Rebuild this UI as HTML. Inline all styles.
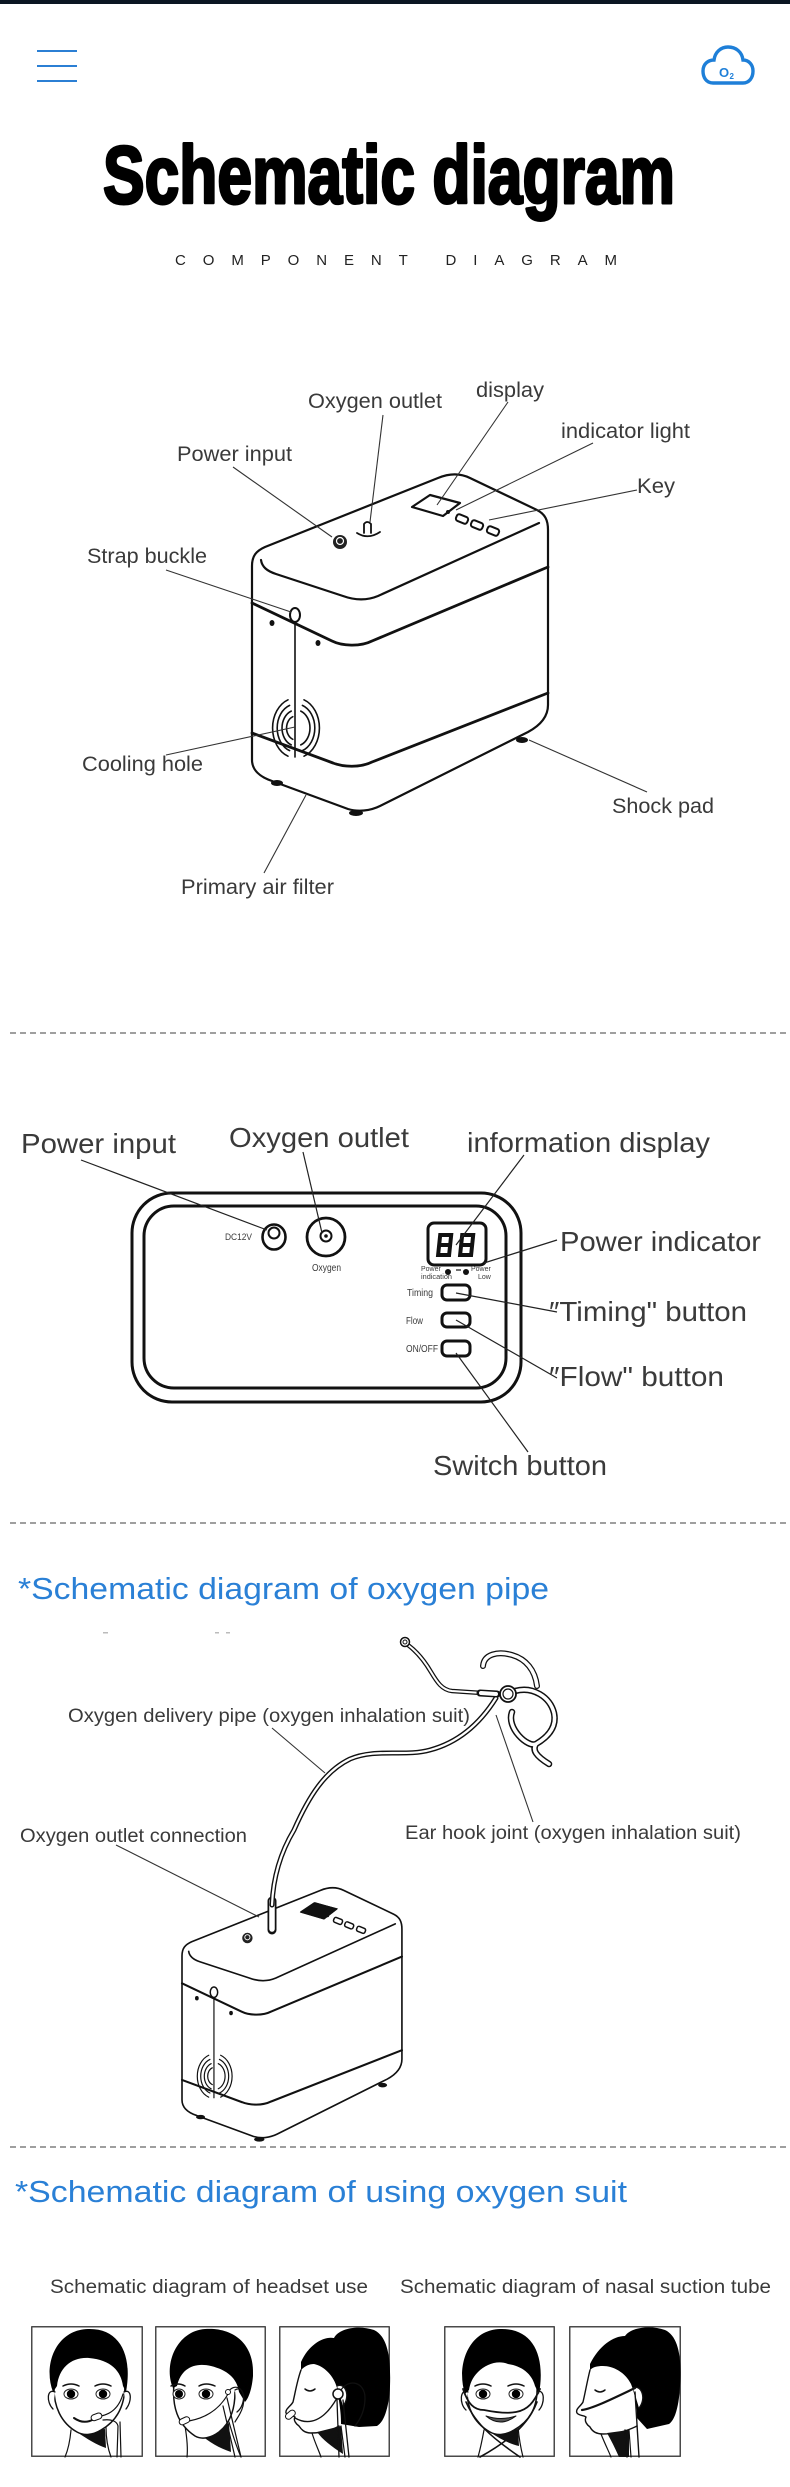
<!DOCTYPE html>
<html><head><meta charset="utf-8">
<style>
html,body{margin:0;padding:0;background:#fff;}
svg{display:block;}
.t{font-family:"Liberation Sans",Arial,sans-serif;fill:#3a3a3a;}
.b{font-family:"Liberation Sans",Arial,sans-serif;fill:#2a80d6;}
</style></head><body>
<svg width="790" height="2487" viewBox="0 0 790 2487" xmlns="http://www.w3.org/2000/svg">
<rect width="790" height="2487" fill="#fff"/>
<rect width="790" height="4" fill="#0b1622"/>

<!-- header -->
<g stroke="#2b7fd4" stroke-width="2">
<line x1="37" y1="51" x2="77" y2="51"/><line x1="37" y1="66" x2="77" y2="66"/><line x1="37" y1="81" x2="77" y2="81"/>
</g>
<path d="M713,83 C706,83 703,77 703,71 C703,64 708,60 714,60 C715,52 721,47 728,47 C736,47 742,52 743,60 C749,60 753,65 753,71 C753,78 749,83 743,83 Z" fill="none" stroke="#1e7fd8" stroke-width="3.4"/>
<text x="719" y="77" font-family="Liberation Sans,sans-serif" font-weight="bold" font-size="13" fill="#1e7fd8">O</text>
<text x="729.5" y="79" font-family="Liberation Sans,sans-serif" font-weight="bold" font-size="8" fill="#1e7fd8">2</text>

<text x="103" y="203" font-family="Liberation Sans,Arial,sans-serif" font-weight="bold" font-size="82" textLength="572" lengthAdjust="spacingAndGlyphs" fill="#000" stroke="#000" stroke-width="3" stroke-linejoin="round">Schematic diagram</text>
<text x="175" y="265" font-family="Liberation Sans,Arial,sans-serif" font-size="15" fill="#222" textLength="442" lengthAdjust="spacing">COMPONENT DIAGRAM</text>

<!-- ===== Device 1 ===== -->
<g id="dev" fill="none" stroke="#111" stroke-width="2.2" stroke-linecap="round" stroke-linejoin="round">
<path d="M252,566 C252,556 256,551 265,547 L438,478 C450,473 460,473 470,478 L537,510 C545,514 548,520 548,530 L548,705 C548,716 541,725 528,732 L380,806 C370,811 358,812 348,809 L272,781 C260,777 252,770 252,760 Z" fill="#fff"/>
<path d="M261,560 C262,567 267,571 276,574 L343,596 C354,600 366,601 378,596 L539,523"/>
<path d="M252,603 L332,641 C342,646 360,647 372,641 L548,567" stroke-width="2.8"/>
<path d="M252,733 L333,763 C343,767 360,768 372,762 L548,693" stroke-width="2.8"/>
<path d="M295,623 L295,757" stroke-width="1.6"/>
<ellipse cx="295" cy="615" rx="5" ry="7" fill="#fff" stroke-width="2"/>
<ellipse cx="272" cy="623" rx="2.5" ry="3" fill="#111" stroke="none"/>
<ellipse cx="318" cy="643" rx="2.5" ry="3" fill="#111" stroke="none"/>
<ellipse cx="277" cy="783" rx="6" ry="3" fill="#111" stroke="none"/>
<ellipse cx="356" cy="813" rx="7" ry="3" fill="#111" stroke="none"/>
<ellipse cx="522" cy="740" rx="6" ry="3" fill="#111" stroke="none"/>
<g stroke-width="1.6">
<path d="M288,699.8 A23.4,30 0 0 0 288,756.2"/>
<path d="M289.6,705.4 A18.7,24 0 0 0 289.6,750.6"/>
<path d="M291.2,711.1 A14,18 0 0 0 291.2,744.9"/>
<path d="M292.8,716.7 A9.4,12 0 0 0 292.8,739.3"/>
<path d="M304,699.8 A23.4,30 0 0 1 304,756.2"/>
<path d="M302.4,705.4 A18.7,24 0 0 1 302.4,750.6"/>
<path d="M300.8,711.1 A14,18 0 0 1 300.8,744.9"/>
</g>
<circle cx="340" cy="542" r="7" fill="#222" stroke="none"/>
<circle cx="340" cy="541" r="3.5" stroke="#fff" stroke-width="1.2"/>
<path d="M412,507 L430,495 L460,503 L443,516 Z" fill="#fff"/>
<circle cx="448" cy="512" r="2" fill="#111" stroke="none"/>
<rect x="-6" y="-3.5" width="12" height="7" rx="2.5" transform="translate(462,519) rotate(22)" stroke-width="2"/>
<rect x="-6" y="-3.5" width="12" height="7" rx="2.5" transform="translate(477,525) rotate(22)" stroke-width="2"/>
<rect x="-6" y="-3.5" width="12" height="7" rx="2.5" transform="translate(493,531) rotate(22)" stroke-width="2"/>
</g>
<g fill="none" stroke="#111" stroke-width="1.8" stroke-linecap="round">
<path d="M364,533 L364,524 Q367,520 371,524 L371,533"/>
<path d="M357,533 Q368,540 380,532"/>
</g>

<!-- section 1 leaders -->
<g stroke="#333" stroke-width="1.1">
<line x1="233" y1="467" x2="332" y2="537"/>
<line x1="383" y1="415" x2="370" y2="522"/>
<line x1="508" y1="402" x2="437" y2="505"/>
<line x1="593" y1="443" x2="456" y2="510"/>
<line x1="637" y1="490" x2="489" y2="520"/>
<line x1="166" y1="570" x2="291" y2="612"/>
<line x1="166" y1="755" x2="295" y2="727"/>
<line x1="647" y1="792" x2="529" y2="740"/>
<line x1="264" y1="873" x2="306" y2="795"/>
</g>
<g class="t" font-size="21">
<text x="308" y="408" textLength="134" lengthAdjust="spacingAndGlyphs">Oxygen outlet</text>
<text x="476" y="397" textLength="68" lengthAdjust="spacingAndGlyphs">display</text>
<text x="561" y="438" textLength="129" lengthAdjust="spacingAndGlyphs">indicator light</text>
<text x="177" y="461" textLength="115" lengthAdjust="spacingAndGlyphs">Power input</text>
<text x="637" y="493" textLength="38" lengthAdjust="spacingAndGlyphs">Key</text>
<text x="87" y="563" textLength="120" lengthAdjust="spacingAndGlyphs">Strap buckle</text>
<text x="82" y="771" textLength="121" lengthAdjust="spacingAndGlyphs">Cooling hole</text>
<text x="612" y="813" textLength="102" lengthAdjust="spacingAndGlyphs">Shock pad</text>
<text x="181" y="894" textLength="153" lengthAdjust="spacingAndGlyphs">Primary air filter</text>
</g>

<g stroke="#666" stroke-width="1.2" stroke-dasharray="6,4">
<line x1="10" y1="1033" x2="790" y2="1033"/>
<line x1="10" y1="1523" x2="790" y2="1523"/>
<line x1="10" y1="2147" x2="790" y2="2147"/>
</g>

<!-- ===== Panel ===== -->
<g fill="none" stroke="#111" stroke-width="3">
<rect x="132" y="1193" width="389" height="209" rx="40"/>
<rect x="144" y="1206" width="362" height="182" rx="30"/>
<ellipse cx="274" cy="1237" rx="11.5" ry="12.5" stroke-width="2.6"/>
<circle cx="274" cy="1233" r="5.5" stroke-width="2"/>
<circle cx="326" cy="1237" r="19" stroke-width="2.8"/>
<circle cx="326" cy="1236" r="5.5" stroke-width="2"/>
<circle cx="326" cy="1236" r="1.8" fill="#111" stroke="none"/>
<rect x="428" y="1223" width="58" height="42" rx="6"/>
<path d="M440,1235 h11 v20 h-11 z M440,1245 h11" stroke-width="4" transform="skewX(-6) translate(130,0)"/>
<path d="M462,1235 h11 v20 h-11 z M462,1245 h11" stroke-width="4" transform="skewX(-6) translate(130,0)"/>
<rect x="442" y="1285" width="28" height="15" rx="5"/>
<rect x="442" y="1313" width="28" height="14" rx="5"/>
<rect x="442" y="1341" width="28" height="15" rx="5"/>
</g>
<circle cx="448" cy="1272" r="3" fill="#111"/>
<circle cx="466" cy="1272" r="3" fill="#111"/>
<line x1="456" y1="1270" x2="461" y2="1270" stroke="#111" stroke-width="1.2"/>
<g class="t" fill="#444">
<text x="225" y="1240" font-size="9" textLength="27" lengthAdjust="spacingAndGlyphs">DC12V</text>
<text x="312" y="1271" font-size="10" textLength="29" lengthAdjust="spacingAndGlyphs">Oxygen</text>
<text x="421" y="1271" font-size="7">Power</text>
<text x="421" y="1279" font-size="7" textLength="31" lengthAdjust="spacingAndGlyphs">indication</text>
<text x="471" y="1271" font-size="7">Power</text>
<text x="478" y="1279" font-size="7">Low</text>
<text x="407" y="1296" font-size="10" textLength="26" lengthAdjust="spacingAndGlyphs">Timing</text>
<text x="406" y="1324" font-size="10" textLength="17" lengthAdjust="spacingAndGlyphs">Flow</text>
<text x="406" y="1352" font-size="10" textLength="32" lengthAdjust="spacingAndGlyphs">ON/OFF</text>
</g>
<g stroke="#222" stroke-width="1.2">
<line x1="81" y1="1160" x2="267" y2="1230"/>
<line x1="303" y1="1152" x2="322" y2="1233"/>
<line x1="524" y1="1155" x2="456" y2="1245"/>
<line x1="557" y1="1240" x2="484" y2="1263"/>
<line x1="557" y1="1312" x2="456" y2="1293"/>
<line x1="557" y1="1378" x2="456" y2="1320"/>
<line x1="528" y1="1452" x2="456" y2="1353"/>
</g>
<g class="t" font-size="28">
<text x="21" y="1153" textLength="155" lengthAdjust="spacingAndGlyphs">Power input</text>
<text x="229" y="1147" textLength="180" lengthAdjust="spacingAndGlyphs">Oxygen outlet</text>
<text x="467" y="1152" textLength="243" lengthAdjust="spacingAndGlyphs">information display</text>
<text x="560" y="1251" textLength="201" lengthAdjust="spacingAndGlyphs">Power indicator</text>
<text x="549" y="1321" textLength="198" lengthAdjust="spacingAndGlyphs">″Timing" button</text>
<text x="549" y="1386" textLength="175" lengthAdjust="spacingAndGlyphs">″Flow" button</text>
<text x="433" y="1475" textLength="174" lengthAdjust="spacingAndGlyphs">Switch button</text>
</g>

<!-- ===== Section 3 ===== -->
<text class="b" x="18" y="1599" font-size="31" textLength="531" lengthAdjust="spacingAndGlyphs">*Schematic diagram of oxygen pipe</text>
<g fill="#bbb"><rect x="103" y="1632" width="5" height="1.5"/><rect x="215" y="1632" width="4" height="1.5"/><rect x="226" y="1632" width="4" height="1.5"/></g>

<use href="#dev" transform="translate(182 1886) scale(0.743) translate(-252 -472)"/>
<path d="M301.5,1912 L315,1903 L336.5,1909 L324,1918.7 Z" fill="#111" stroke="#111" stroke-width="1.5"/>

<g fill="none" stroke-linecap="round" stroke-linejoin="round">
<path d="M272,1901 L272,1930" stroke="#111" stroke-width="9"/>
<path d="M272,1901 L272,1929" stroke="#fff" stroke-width="5.5"/>
<path id="tube" d="M272,1905 C273,1880 279,1855 294,1830 C309,1796 325,1771 350,1759 C376,1748 405,1757 430,1750 C460,1742 481,1722 496,1698" stroke="#111" stroke-width="5"/>
<path d="M272,1905 C273,1880 279,1855 294,1830 C309,1796 325,1771 350,1759 C376,1748 405,1757 430,1750 C460,1742 481,1722 496,1698" stroke="#fff" stroke-width="2.2"/>
<path d="M482,1693 L452,1691 C442,1690 437,1682 431,1672 C424,1660 416,1651 408,1645" stroke="#111" stroke-width="4.5"/>
<path d="M482,1693 L452,1691 C442,1690 437,1682 431,1672 C424,1660 416,1651 408,1645" stroke="#fff" stroke-width="2"/>
<path d="M480,1693 L497,1694" stroke="#111" stroke-width="7"/>
<path d="M481,1693 L496,1694" stroke="#fff" stroke-width="4"/>
<path d="M483,1666 C484,1654 498,1651 512,1655 C526,1659 535,1670 537,1686" stroke="#111" stroke-width="6"/>
<path d="M483,1666 C484,1654 498,1651 512,1655 C526,1659 535,1670 537,1686" stroke="#fff" stroke-width="3.5"/>
<path d="M515,1691 C533,1686 550,1697 554,1713 C557,1727 548,1737 536,1744 C528,1748 506,1728 512,1712 M536,1744 C532,1750 536,1756 549,1764" stroke="#111" stroke-width="6.5"/>
<path d="M515,1691 C533,1686 550,1697 554,1713 C557,1727 548,1737 536,1744 C528,1748 506,1728 512,1712 M536,1744 C532,1750 536,1756 549,1764" stroke="#fff" stroke-width="3.5"/>
</g>
<circle cx="405" cy="1642" r="4.5" fill="#fff" stroke="#111" stroke-width="1.5"/>
<circle cx="405" cy="1642" r="2" fill="none" stroke="#111" stroke-width="1"/>
<circle cx="508" cy="1694" r="8" fill="#fff" stroke="#111" stroke-width="1.8"/>
<circle cx="508" cy="1694" r="5" fill="none" stroke="#111" stroke-width="1.2"/>

<g stroke="#333" stroke-width="1.1">
<line x1="272" y1="1728" x2="325" y2="1773"/>
<line x1="533" y1="1822" x2="496" y2="1715"/>
<line x1="116" y1="1845" x2="259" y2="1917"/>
</g>
<g class="t" font-size="19">
<text x="68" y="1722" textLength="402" lengthAdjust="spacingAndGlyphs">Oxygen delivery pipe (oxygen inhalation suit)</text>
<text x="20" y="1842" textLength="227" lengthAdjust="spacingAndGlyphs">Oxygen outlet connection</text>
<text x="405" y="1839" textLength="336" lengthAdjust="spacingAndGlyphs">Ear hook joint (oxygen inhalation suit)</text>
</g>

<!-- ===== Section 4 ===== -->
<text class="b" x="15" y="2202" font-size="31" textLength="612" lengthAdjust="spacingAndGlyphs">*Schematic diagram of using oxygen suit</text>
<g class="t" font-size="19" fill="#444">
<text x="50" y="2293" textLength="318" lengthAdjust="spacingAndGlyphs">Schematic diagram of headset use</text>
<text x="400" y="2293" textLength="371" lengthAdjust="spacingAndGlyphs">Schematic diagram of nasal suction tube</text>
</g>

<!-- face 1 -->
<g transform="translate(31,2326)" stroke-linecap="round" stroke-linejoin="round">
<rect x="0.75" y="0.75" width="110.5" height="129.5" fill="#fff" stroke="#4a4a4a" stroke-width="1.5"/>
<path d="M40,104 C39,115 37,124 34,131 M75,101 C75,112 77,123 80,131" stroke="#111" stroke-width="1.2" fill="none"/>
<path d="M46,106 L74,103 L75,122 C66,119 56,113 46,106 Z" fill="#111"/>
<path d="M23,58 C22,80 30,97 46,106 C53,110 62,109 70,104 C86,95 94,80 94,58" fill="#fff" stroke="#111" stroke-width="1.5"/>
<path d="M24,66 C16,62 15,76 22,83" fill="#fff" stroke="#111" stroke-width="1.3"/>
<path d="M93,66 C101,62 101,76 95,83" fill="#fff" stroke="#111" stroke-width="1.3"/>
<path d="M22,66 C12,40 24,4 57,3 C88,2 102,28 95,66 L92,60 C90,45 80,34 58,32 C40,31 28,42 26,60 Z" fill="#000"/>
<path d="M32,60 Q40,56 48,60 M64,60 Q72,56 80,60" stroke="#111" stroke-width="1.5" fill="none"/>
<ellipse cx="40" cy="68" rx="7" ry="5" fill="#fff" stroke="#222" stroke-width="1"/>
<circle cx="40" cy="68" r="4.2" fill="#000"/>
<ellipse cx="72" cy="68" rx="7" ry="5" fill="#fff" stroke="#222" stroke-width="1"/>
<circle cx="72" cy="68" r="4.2" fill="#000"/>
<path d="M43,92 Q53,99 63,93" stroke="#111" stroke-width="2" fill="none"/>
<path d="M70,90 C80,88 88,82 92,68 M72,94 C80,93 86,95 87,100 L86,131 M89,96 L90,131" stroke="#111" stroke-width="1.2" fill="none"/>
<rect x="60" y="88" width="11" height="6" rx="3" fill="#fff" stroke="#111" transform="rotate(-20 65 91)"/>
</g>

<!-- face 2 -->
<g transform="translate(155,2326)" stroke-linecap="round" stroke-linejoin="round">
<rect x="0.75" y="0.75" width="109.5" height="129.5" fill="#fff" stroke="#4a4a4a" stroke-width="1.5"/>
<path d="M30,100 C32,112 33,122 32,131 M74,96 C78,110 82,122 86,131" stroke="#111" stroke-width="1.2" fill="none"/>
<path d="M46,109 L74,97 L76,126 C64,122 54,116 46,109 Z" fill="#111"/>
<path d="M19,58 C17,80 22,98 40,110 C47,114 56,112 64,106 C74,98 80,86 80,66" fill="#fff" stroke="#111" stroke-width="1.5"/>
<path d="M80,64 C90,58 92,78 82,86" fill="#fff" stroke="#111" stroke-width="1.3"/>
<path d="M18,62 C8,38 22,5 50,3 C75,1 100,15 98,50 C97,62 94,72 90,76 L84,66 C82,52 72,44 56,40 C40,36 26,42 22,60 Z" fill="#000"/>
<path d="M16,60 Q23,56 30,60 M44,60 Q51,56 60,60" stroke="#111" stroke-width="1.5" fill="none"/>
<ellipse cx="24" cy="68" rx="6" ry="5" fill="#fff" stroke="#222" stroke-width="1"/>
<circle cx="24" cy="68" r="4" fill="#000"/>
<ellipse cx="51" cy="68" rx="7" ry="5" fill="#fff" stroke="#222" stroke-width="1"/>
<circle cx="51" cy="68" r="4.2" fill="#000"/>
<path d="M34,95 C50,92 64,84 73,68 M73,66 C80,56 92,62 88,80 C86,88 82,92 80,96 M72,72 L86,131 M68,80 L80,131" stroke="#111" stroke-width="1.2" fill="none"/>
<circle cx="73" cy="66" r="2.5" fill="#fff" stroke="#111"/>
<rect x="24" y="92" width="11" height="6" rx="3" fill="#fff" stroke="#111" transform="rotate(-25 29 95)"/>
</g>

<!-- face 3 -->
<g transform="translate(279,2326)" stroke-linecap="round" stroke-linejoin="round">
<rect x="0.75" y="0.75" width="109.5" height="129.5" fill="#fff" stroke="#4a4a4a" stroke-width="1.5"/>
<path d="M22,36 C30,18 45,10 55,12 C60,2 80,-1 95,4 C108,10 112,30 111,60 C110,82 105,96 98,100 L80,101 L62,98 C62,85 60,75 58,62 C55,50 45,40 35,38 C30,38 26,40 22,44 Z" fill="#000"/>
<path d="M22,44 C18,55 16,68 14,76 C12,80 6,83 7,87 C9,90 14,89 16,91 C14,94 17,98 20,100 C22,103 25,107 32,107 C42,107 52,105 60,100" fill="#fff" stroke="#111" stroke-width="1.4"/>
<path d="M38,106 L62,100 L64,128 C52,120 44,114 38,106 Z" fill="#111"/>
<path d="M33,107 C36,117 40,125 42,131 M62,100 L66,131" stroke="#111" stroke-width="1.2" fill="none"/>
<path d="M26,63 Q31,67 36,63" stroke="#111" stroke-width="1.5" fill="none"/>
<path d="M58,60 C66,56 72,70 64,80" fill="#fff" stroke="#111" stroke-width="1.3"/>
<path d="M62,64 C70,52 86,56 86,72 C86,86 80,95 76,100 M16,92 C30,100 45,95 58,72 M58,74 L60,131 M64,74 L70,131" stroke="#111" stroke-width="1.3" fill="none"/>
<circle cx="59" cy="68" r="5" fill="#fff" stroke="#111" stroke-width="1.5"/>
<rect x="6" y="86" width="11" height="6" rx="3" fill="#fff" stroke="#111" transform="rotate(-40 11 89)"/>
</g>

<!-- face 4 -->
<g transform="translate(444,2326)" stroke-linecap="round" stroke-linejoin="round">
<rect x="0.75" y="0.75" width="109.5" height="129.5" fill="#fff" stroke="#4a4a4a" stroke-width="1.5"/>
<path d="M40,104 C38,115 36,124 34,131 M74,101 C75,112 77,123 79,131" stroke="#111" stroke-width="1.2" fill="none"/>
<path d="M46,106 L74,103 L75,120 C66,118 56,113 46,106 Z" fill="#111"/>
<path d="M23,60 C22,82 30,97 46,106 C53,110 62,109 70,104 C86,95 94,80 93,60" fill="#fff" stroke="#111" stroke-width="1.5"/>
<path d="M24,66 C16,62 15,78 22,84" fill="#fff" stroke="#111" stroke-width="1.3"/>
<path d="M93,66 C101,62 101,78 95,84" fill="#fff" stroke="#111" stroke-width="1.3"/>
<path d="M21,68 C12,40 24,4 56,3 C88,2 102,28 95,68 L91,60 C88,48 78,40 64,38 C54,34 42,38 34,46 C28,52 26,58 25,64 Z" fill="#000"/>
<path d="M31,60 Q39,56 47,60 M64,60 Q72,56 80,60" stroke="#111" stroke-width="1.5" fill="none"/>
<ellipse cx="39" cy="68" rx="7" ry="5" fill="#fff" stroke="#222" stroke-width="1"/>
<circle cx="39" cy="68" r="4.2" fill="#000"/>
<ellipse cx="72" cy="68" rx="7" ry="5" fill="#fff" stroke="#222" stroke-width="1"/>
<circle cx="72" cy="68" r="4.2" fill="#000"/>
<path d="M42,90 Q56,102 72,90 Q57,95 42,90 Z" fill="#555" stroke="#111" stroke-width="1"/>
<path d="M19,63 C24,78 30,84 40,84 C50,86 62,88 72,86 C84,84 90,76 96,63" stroke="#111" stroke-width="1.8" fill="none"/>
<path d="M22,76 C30,95 45,110 76,131 M93,76 C86,95 70,112 36,131" stroke="#111" stroke-width="1.6" fill="none"/>
</g>

<!-- face 5 -->
<g transform="translate(569,2326)" stroke-linecap="round" stroke-linejoin="round">
<rect x="0.75" y="0.75" width="110.5" height="129.5" fill="#fff" stroke="#4a4a4a" stroke-width="1.5"/>
<path d="M21,38 C30,20 44,10 56,10 C62,1 82,-1 96,4 C109,10 113,30 111,60 C110,80 106,94 100,98 L78,103 L68,92 C68,80 66,68 62,58 C56,46 44,40 34,40 C28,40 24,41 21,44 Z" fill="#000"/>
<path d="M21,44 C18,56 16,68 14,76 C12,80 6,83 8,87 C10,90 15,89 17,91 C15,95 18,99 21,101 C23,105 27,108 34,108 C46,108 56,106 68,100" fill="#fff" stroke="#111" stroke-width="1.4"/>
<path d="M38,107 L60,104 L60,131 L50,131 C46,122 42,114 38,107 Z" fill="#111"/>
<path d="M32,108 C36,118 40,126 42,131 M60,104 L62,131" stroke="#111" stroke-width="1.2" fill="none"/>
<path d="M26,64 Q31,68 36,64" stroke="#111" stroke-width="1.5" fill="none"/>
<path d="M64,62 C72,58 78,72 70,82" fill="#fff" stroke="#111" stroke-width="1.3"/>
<path d="M13,84 C25,82 45,72 66,62" stroke="#111" stroke-width="2.2" fill="none"/>
<path d="M66,66 L70,131 M56,104 L58,131" stroke="#111" stroke-width="1.4" fill="none"/>
</g>
</svg>
</body></html>
